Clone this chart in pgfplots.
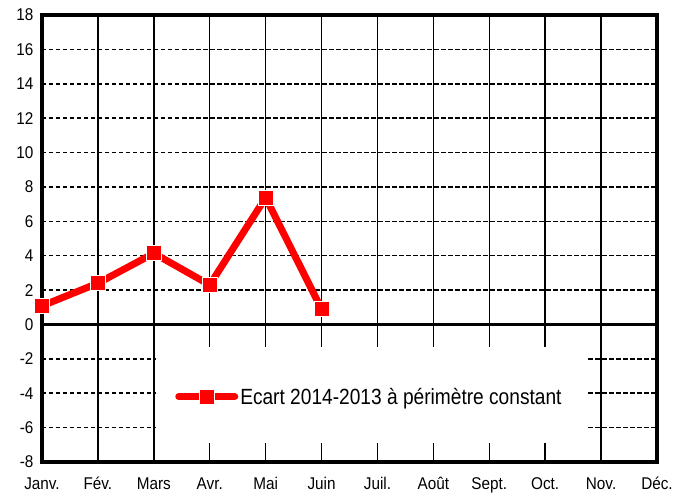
\documentclass[border=0pt]{standalone}
\usepackage{fontspec}
\setmainfont[FakeStretch=0.9]{Liberation Sans}
\newfontfamily\legfont[FakeStretch=0.87]{Liberation Sans}
\usepackage{pgfplots}
\pgfplotsset{compat=1.18}
\begin{document}
\begin{tikzpicture}
\begin{axis}[
  scale only axis,
  width=615pt, height=447pt,
  xmin=0, xmax=11, ymin=-8, ymax=18,
  xtick={0,...,11},
  xticklabels={Janv.,Fév.,Mars,Avr.,Mai,Juin,Juil.,Août,Sept.,Oct.,Nov.,Déc.},
  ytick={-8,-6,...,18},
  /pgf/number format/assume math mode=true,
  tick label style={font=\fontsize{17}{20}\selectfont},
  yticklabel style={xshift=-5pt},
  xticklabel style={anchor=north, inner sep=0pt, text height=12pt, text depth=3pt, yshift=-15pt},
  major tick length=0pt,
  xmajorgrids, ymajorgrids,
  x grid style={black, line width=1.5pt},
  y grid style={black, line width=1.5pt, dash pattern=on 4.5pt off 2.5pt},
  axis line style={black, line width=3.5pt},
  clip=false,
  legend style={at={(axis cs:2.38,-4.2)}, anchor=west, draw=none, fill=none,
    font=\legfont\fontsize{22}{26}\selectfont, inner sep=0pt,
    legend cell align=left},
  legend image code/.code={
    \draw[#1, mark repeat=2, mark phase=2] plot coordinates {(0pt,0pt) (28pt,0pt) (56pt,0pt)};
  },
]
\fill[white] (axis cs:2.04,-1.31) rectangle (axis cs:9.73,-6.89);
\draw[black, line width=3.5pt] (axis cs:0,0) -- (axis cs:11,0);
\addplot[red, line width=7pt, line join=round, line cap=round,
  mark=square*, mark size=7.5pt,
  mark options={fill=red, draw=white, line width=0.6pt, solid}]
  coordinates {(0,1.08) (1,2.40) (2,4.14) (3,2.30) (4,7.38) (5,0.90)};
\addlegendentry{Ecart 2014-2013 à périmètre constant}
\coordinate (bl) at (rel axis cs:0,0);
\coordinate (tr) at (rel axis cs:1,1);
\end{axis}
\pgfresetboundingbox
\path ([xshift=-42pt,yshift=-31pt]bl) rectangle ([xshift=29pt,yshift=15pt]tr);
\end{tikzpicture}
\end{document}
